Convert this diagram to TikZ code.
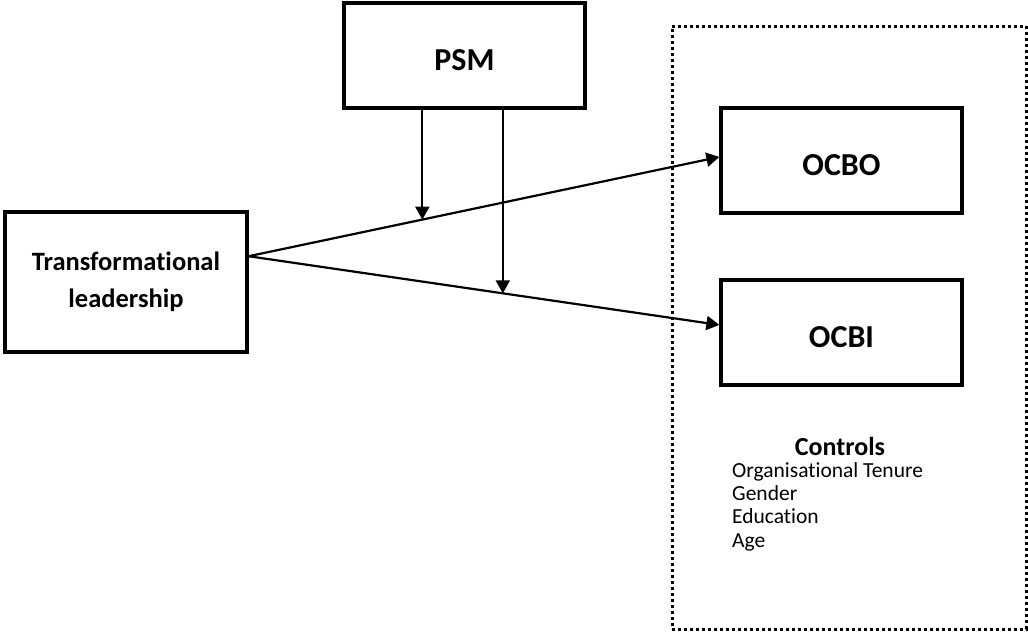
\documentclass[tikz,border=0pt]{standalone}
\usepackage{fontspec}
\setmainfont[Ligatures=NoCommon]{Carlito}
\usetikzlibrary{arrows.meta,calc}
\begin{document}
\begin{tikzpicture}[x=1pt,y=-1pt,
  box/.style={draw, line width=3.2pt, minimum width=241pt, minimum height=105pt,
    inner sep=0pt, font=\bfseries\fontsize{32}{38}\selectfont,
    text height=29.5pt, text depth=0pt},
  tlbox/.style={draw, line width=3.2pt, minimum width=242pt, minimum height=140pt,
    inner sep=0pt, align=center, font=\bfseries\fontsize{26.5}{37}\selectfont},
  link/.style={line width=2.2pt, -{Triangle[length=13pt,width=14pt]}},
  ctrlhead/.style={inner sep=0pt, anchor=base, font=\bfseries\fontsize{26}{30}\selectfont},
  ctrlitem/.style={inner sep=0pt, anchor=base west, font=\fontsize{21.5}{25}\selectfont},
  frame/.style={draw, line width=3pt, dash pattern=on 3pt off 3pt}
]
\useasboundingbox (0,0) rectangle (1028,632);

\node[frame, minimum width=354pt, minimum height=603pt, inner sep=0pt] (ctl) at (849,327.5) {};

\node[box] (PSM) at (464.5,55.5) {PSM};
\node[tlbox] (TL) at (126,282) {Transformational\\leadership};
\node[box] (OCBO) at (841.5,160.5) {OCBO};
\node[box] (OCBI) at (841.5,332.5) {OCBI};

\node[ctrlhead] (ch) at (840,455.5) {Controls};
\node[ctrlitem] (c1) at (732,477) {Organisational Tenure};
\node[ctrlitem] (c2) at (732,500.4) {Gender};
\node[ctrlitem] (c3) at (732,523.8) {Education};
\node[ctrlitem] (c4) at (732,547.2) {Age};

\coordinate (src) at ($(TL.north east)!0.32!(TL.south east)$);
\coordinate (tO) at ($(OCBO.north west)!0.467!(OCBO.south west)$);
\coordinate (tI) at ($(OCBI.north west)!0.43!(OCBI.south west)$);
\coordinate (m1) at ($(src)!0.369!(tO)$);
\coordinate (m2) at ($(src)!0.54!(tI)$);

\draw[link] (src) -- (tO);
\draw[link] (src) -- (tI);
\draw[link] (PSM.south -| m1) -- (m1);
\draw[link] (PSM.south -| m2) -- (m2);
\end{tikzpicture}
\end{document}
